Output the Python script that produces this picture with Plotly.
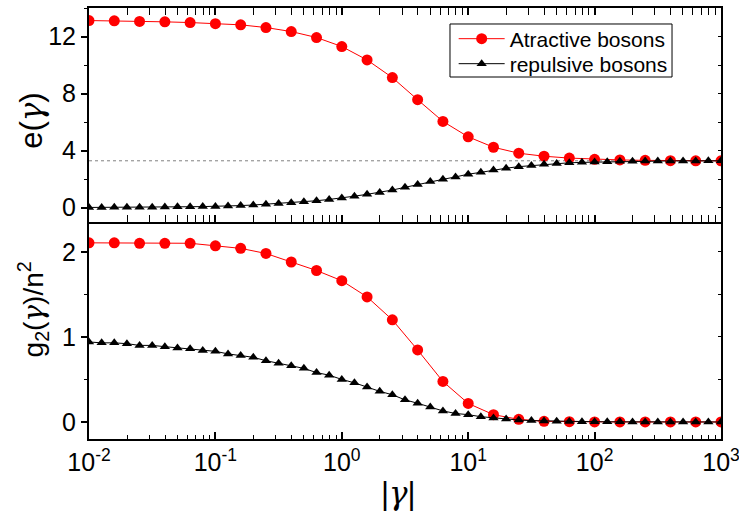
import plotly.graph_objects as go

# ---------------- data ----------------
gamma_att = [0.01, 0.01585, 0.02512, 0.03981, 0.0631, 0.1, 0.1585, 0.2512, 0.3981, 0.631,
             1, 1.585, 2.512, 3.981, 6.31, 10, 15.85, 25.12, 39.81, 63.1,
             100, 158.5, 251.2, 398.1, 631, 1000]
gamma_rep = [0.01, 0.01259, 0.01585, 0.01995, 0.02512, 0.03162, 0.03981, 0.05012, 0.0631, 0.07943,
             0.1, 0.1259, 0.1585, 0.1995, 0.2512, 0.3162, 0.3981, 0.5012, 0.631, 0.7943,
             1, 1.259, 1.585, 1.995, 2.512, 3.162, 3.981, 5.012, 6.31, 7.943,
             10, 12.59, 15.85, 19.95, 25.12, 31.62, 39.81, 50.12, 63.1, 79.43,
             100, 125.9, 158.5, 199.5, 251.2, 316.2, 398.1, 501.2, 631, 794.3, 1000]

e_att = [13.12, 13.10, 13.06, 13.03, 12.98, 12.90, 12.82, 12.63, 12.35, 11.93,
         11.30, 10.36, 9.12, 7.57, 6.05, 4.97, 4.24, 3.82, 3.61, 3.48,
         3.39, 3.35, 3.32, 3.30, 3.29, 3.29]
e_rep = [0.02, 0.02, 0.03, 0.03, 0.04, 0.04, 0.05, 0.06, 0.07, 0.08,
         0.09, 0.12, 0.15, 0.19, 0.24, 0.29, 0.35, 0.42, 0.49, 0.58,
         0.68, 0.81, 0.94, 1.07, 1.24, 1.43, 1.63, 1.83, 1.99, 2.16,
         2.35, 2.48, 2.64, 2.77, 2.88, 2.96, 3.04, 3.10, 3.15, 3.18,
         3.20, 3.23, 3.25, 3.26, 3.27, 3.27, 3.28, 3.28, 3.28, 3.29, 3.29]

g2_att = [2.105, 2.105, 2.10, 2.10, 2.10, 2.07, 2.04, 1.98, 1.88, 1.78,
          1.66, 1.47, 1.20, 0.846, 0.476, 0.218, 0.086, 0.031, 0.008, 0.003,
          0.001, 0, 0, 0, 0, 0]
g2_rep = [0.94, 0.93, 0.93, 0.92, 0.90, 0.90, 0.885, 0.87, 0.86, 0.84,
          0.83, 0.80, 0.78, 0.76, 0.72, 0.69, 0.66, 0.63, 0.58, 0.55,
          0.50, 0.46, 0.41, 0.36, 0.32, 0.26, 0.22, 0.175, 0.13, 0.10,
          0.086, 0.062, 0.047, 0.035, 0.023, 0.016, 0.012, 0.008, 0.005, 0.004,
          0.003, 0.002, 0.002, 0.001, 0.001, 0.001, 0, 0, 0, 0, 0]

e_limit = 3.29  # pi^2/3 asymptote
x_tickvals = [0.01, 0.1, 1, 10, 100, 1000]
x_ticktext = ["10<sup>-2</sup>", "10<sup>-1</sup>", "10<sup>0</sup>",
              "10<sup>1</sup>", "10<sup>2</sup>", "10<sup>3</sup>"]

FONT = "'Liberation Sans', Arial, sans-serif"
GAMMA = "<span style='font-family:DejaVu Serif'><i>γ</i></span>"
RED = "#ff0000"

fig = go.Figure()

att_style = dict(mode="lines+markers", line=dict(color=RED, width=1),
                 marker=dict(symbol="circle", size=11, color=RED))
rep_style = dict(mode="lines+markers", line=dict(color="black", width=1),
                 marker=dict(symbol="triangle-up", size=9, color="black"))

fig.add_trace(go.Scatter(x=gamma_att, y=e_att, name="Atractive bosons", legend="legend",
                         xaxis="x2", yaxis="y2", **att_style))
fig.add_trace(go.Scatter(x=gamma_rep, y=e_rep, name="repulsive bosons", legend="legend2",
                         xaxis="x2", yaxis="y2", **rep_style))
fig.add_trace(go.Scatter(x=gamma_att, y=g2_att, showlegend=False,
                         xaxis="x", yaxis="y", **att_style))
fig.add_trace(go.Scatter(x=gamma_rep, y=g2_rep, showlegend=False,
                         xaxis="x", yaxis="y", **rep_style))

split = 0.5035
TICKFONT = dict(size=25, family=FONT, color="black")
xcommon = dict(type="log", range=[-2, 3], showgrid=False, zeroline=False, automargin=False,
               showline=True, linecolor="black", linewidth=2,
               ticks="inside", ticklen=7, tickwidth=1.5, tickcolor="black",
               tickvals=x_tickvals, ticktext=x_ticktext, ticklabeloverflow="allow",
               minor=dict(ticks="inside", ticklen=4, tickwidth=1, tickcolor="black",
                          dtick="D1", showgrid=False))
ycommon = dict(showgrid=False, zeroline=False, showline=True, linecolor="black",
               linewidth=2, ticks="outside", ticklen=6, tickwidth=1.5, tickcolor="black",
               mirror=True, automargin=False, tickfont=TICKFONT)

leg_common = dict(xanchor="left", yanchor="middle", borderwidth=0,
                  bgcolor="rgba(0,0,0,0)",
                  font=dict(size=21, family=FONT, color="black"), itemwidth=46)

fig.update_layout(
    width=739, height=515,
    margin=dict(l=89, r=18, t=8, b=76, autoexpand=False),
    paper_bgcolor="white", plot_bgcolor="white",
    font=dict(family=FONT, color="black"),
    xaxis=dict(**xcommon, anchor="y", mirror=False, tickfont=TICKFONT),
    xaxis2=dict(**xcommon, anchor="y2", matches="x", showticklabels=False,
                mirror="allticks"),
    yaxis=dict(**ycommon, domain=[0, split], range=[-0.2, 2.35], tickvals=[0, 1, 2],
               anchor="x",
               minor=dict(ticks="outside", ticklen=3, tickwidth=1, tickcolor="black",
                          dtick=0.5, showgrid=False)),
    yaxis2=dict(**ycommon, domain=[split, 1], range=[-1, 14], tickvals=[0, 4, 8, 12],
                anchor="x2",
                minor=dict(ticks="outside", ticklen=3, tickwidth=1, tickcolor="black",
                           dtick=2, showgrid=False)),
    yaxis3=dict(overlaying="y", side="right", anchor="x", range=[-0.2, 2.35],
                showgrid=False, zeroline=False, showline=False, showticklabels=False,
                automargin=False,
                ticks="inside", ticklen=3, tickwidth=1, tickcolor="black", dtick=0.5),
    yaxis4=dict(overlaying="y2", side="right", anchor="x2", range=[-1, 14],
                showgrid=False, zeroline=False, showline=False, showticklabels=False,
                automargin=False,
                ticks="inside", ticklen=3, tickwidth=1, tickcolor="black", dtick=2),
    legend=dict(x=0.577, y=0.928, **leg_common),
    legend2=dict(x=0.577, y=0.870, **leg_common),
    showlegend=True,
)

# invisible traces to activate the right-hand tick axes
fig.add_trace(go.Scatter(x=[1], y=[None], xaxis="x", yaxis="y3", showlegend=False,
                         hoverinfo="skip"))
fig.add_trace(go.Scatter(x=[1], y=[None], xaxis="x2", yaxis="y4", showlegend=False,
                         hoverinfo="skip"))

# asymptote pi^2/3
fig.add_shape(type="line", xref="x2 domain", yref="y2", x0=0, x1=1,
              y0=e_limit, y1=e_limit, line=dict(color="gray", width=1, dash="dot"),
              layer="below")

# legend frame
fig.add_shape(type="rect", xref="paper", yref="paper", x0=0.5712, x1=0.9225,
              y0=0.8399, y1=0.9629, line=dict(color="black", width=1),
              fillcolor="rgba(0,0,0,0)", layer="above")

# axis titles
fig.add_annotation(text="e(" + GAMMA + ")", xref="paper", yref="paper", x=-0.092, y=0.738,
                   xanchor="center", yanchor="middle",
                   textangle=-90, showarrow=False, font=dict(size=31, family=FONT))
fig.add_annotation(text="g<sub>2</sub>(" + GAMMA + ")/n<sup>2</sup>", xref="paper",
                   yref="paper", x=-0.089, y=0.30, xanchor="center", yanchor="middle",
                   textangle=-90, showarrow=False, font=dict(size=28, family=FONT))
fig.add_annotation(text="|" + GAMMA + "|", xref="paper", yref="paper", x=0.4905, y=-0.125,
                   xanchor="center", yanchor="middle",
                   showarrow=False, font=dict(size=31, family=FONT))

fig.write_html("out.html")
